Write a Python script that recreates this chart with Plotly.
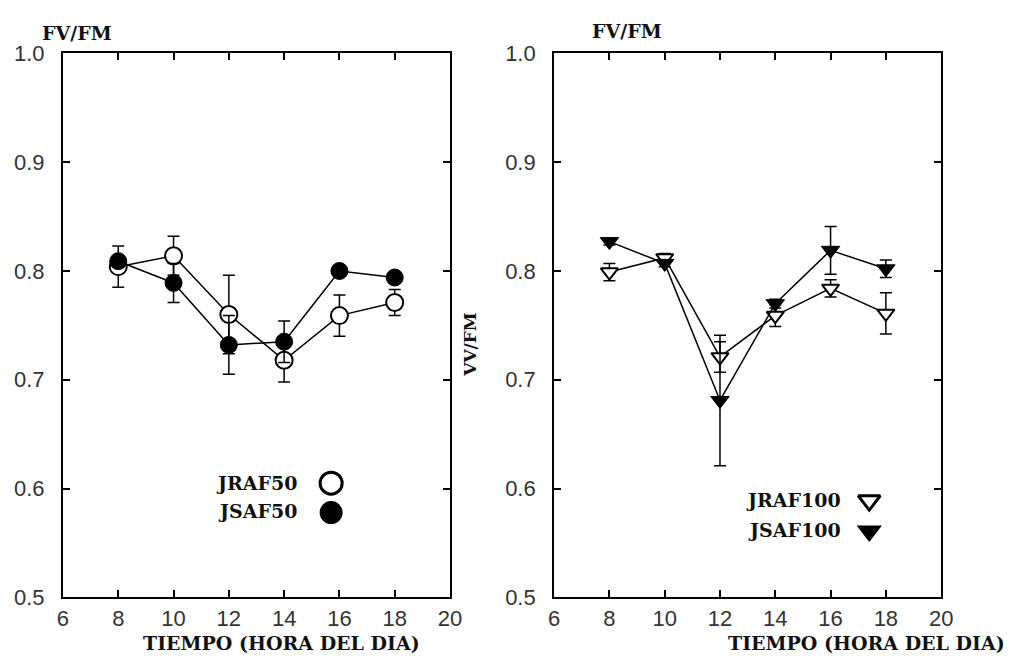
import plotly.graph_objects as go

# ---------------- data ----------------
hours = [8, 10, 12, 14, 16, 18]

jraf50 = [0.804, 0.814, 0.760, 0.718, 0.759, 0.771]
jraf50_err = [0.019, 0.018, 0.036, 0.020, 0.019, 0.012]
jsaf50 = [0.809, 0.789, 0.732, 0.735, 0.800, 0.794]
jsaf50_err = [0.005, 0.018, 0.027, 0.019, 0.005, 0.004]

jraf100 = [0.799, 0.812, 0.721, 0.759, 0.784, 0.761]
jraf100_err = [0.008, 0.004, 0.014, 0.010, 0.008, 0.019]
jsaf100 = [0.827, 0.807, 0.681, 0.770, 0.819, 0.802]
jsaf100_err = [0.003, 0.003, 0.060, 0.004, 0.022, 0.008]

x_ticks = [6, 8, 10, 12, 14, 16, 18, 20]
y_ticks = [0.5, 0.6, 0.7, 0.8, 0.9, 1.0]
y_tick_text = ["0.5", "0.6", "0.7", "0.8", "0.9", "1.0"]

legend_left = ["JRAF50", "JSAF50"]
legend_right = ["JRAF100", "JSAF100"]

# ---------------- figure ----------------
W, H = 1017, 672
SERIF = "DejaVu Serif"
SANS = "Liberation Sans"

def px(x):
    return x / W

def py(y):
    return 1 - y / H

fig = go.Figure()

line = dict(color="black", width=1.5)

def err(arr):
    return dict(type="data", array=arr, visible=True, color="black", thickness=1.5, width=6)

# left panel
fig.add_trace(go.Scatter(x=hours, y=jraf50, mode="lines+markers", line=line,
                         marker=dict(symbol="circle", size=17, color="white",
                                     line=dict(color="black", width=2)),
                         error_y=err(jraf50_err), xaxis="x", yaxis="y", showlegend=False))
fig.add_trace(go.Scatter(x=hours, y=jsaf50, mode="lines+markers", line=line,
                         marker=dict(symbol="circle", size=17, color="black",
                                     line=dict(color="black", width=1)),
                         error_y=err(jsaf50_err), xaxis="x", yaxis="y", showlegend=False))

# right panel
fig.add_trace(go.Scatter(x=hours, y=jraf100, mode="lines+markers", line=line,
                         marker=dict(symbol="triangle-down", size=15, color="white",
                                     line=dict(color="black", width=2)),
                         error_y=err(jraf100_err), xaxis="x2", yaxis="y2", showlegend=False))
fig.add_trace(go.Scatter(x=hours, y=jsaf100, mode="lines+markers", line=line,
                         marker=dict(symbol="triangle-down", size=16, color="black",
                                     line=dict(color="black", width=1)),
                         error_y=err(jsaf100_err), xaxis="x2", yaxis="y2", showlegend=False))

# custom legend glyphs
fig.add_trace(go.Scatter(x=[15.7], y=[0.605], mode="markers",
                         marker=dict(symbol="circle", size=22, color="white",
                                     line=dict(color="black", width=3)),
                         xaxis="x", yaxis="y", showlegend=False))
fig.add_trace(go.Scatter(x=[15.7], y=[0.578], mode="markers",
                         marker=dict(symbol="circle", size=23, color="black"),
                         xaxis="x", yaxis="y", showlegend=False))
fig.add_trace(go.Scatter(x=[17.4], y=[0.589], mode="markers",
                         marker=dict(symbol="triangle-down", size=19, color="white",
                                     line=dict(color="black", width=3)),
                         xaxis="x2", yaxis="y2", showlegend=False))
fig.add_trace(go.Scatter(x=[17.4], y=[0.561], mode="markers",
                         marker=dict(symbol="triangle-down", size=22, color="black"),
                         xaxis="x2", yaxis="y2", showlegend=False))

axis_common = dict(
    showline=True, linecolor="black", linewidth=2, mirror="ticks",
    ticks="inside", ticklen=7, tickwidth=2, tickcolor="black",
    showgrid=False, zeroline=False,
    tickfont=dict(family=SANS, size=22, color="#333"),
)

y_dom = [py(608), py(43)]

fig.update_layout(
    width=W, height=H,
    margin=dict(l=0, r=0, t=0, b=0),
    paper_bgcolor="white", plot_bgcolor="white",
    showlegend=False,
    xaxis=dict(domain=[px(58), px(452)], range=[6, 20], tickvals=x_ticks,
               anchor="y", **axis_common),
    yaxis=dict(domain=y_dom, range=[0.5, 1.0], tickvals=y_ticks, ticktext=y_tick_text,
               anchor="x", ticklabelstandoff=12, **axis_common),
    xaxis2=dict(domain=[px(558), px(952)], range=[6, 20], tickvals=x_ticks,
                anchor="y2", **axis_common),
    yaxis2=dict(domain=y_dom, range=[0.5, 1.0], tickvals=y_ticks, ticktext=y_tick_text,
                anchor="x2", ticklabelstandoff=12, **axis_common),
)

title_font = dict(family=SERIF, size=19, color="#111")

annotations = [
    dict(text="<b>FV/FM</b>", x=px(72), y=py(22), font=title_font),
    dict(text="<b>FV/FM</b>", x=px(632), y=py(20), font=title_font),
    dict(text="<b>VV/FM</b>", x=px(473), y=py(345), textangle=-90,
         font=dict(family=SERIF, size=17, color="#111")),
    dict(text="<b>TIEMPO (HORA DEL DIA)</b>", x=px(280), y=py(655), font=title_font),
    dict(text="<b>TIEMPO (HORA DEL DIA)</b>", x=px(876), y=py(655), font=title_font),
    dict(text="<b>" + legend_left[0] + "</b>", x=px(298), y=py(489), xanchor="right", font=title_font),
    dict(text="<b>" + legend_left[1] + "</b>", x=px(298), y=py(518), xanchor="right", font=title_font),
    dict(text="<b>" + legend_right[0] + "</b>", x=px(852), y=py(507), xanchor="right", font=title_font),
    dict(text="<b>" + legend_right[1] + "</b>", x=px(852), y=py(538), xanchor="right", font=title_font),
]
for a in annotations:
    a.setdefault("xanchor", "center")
    a.update(xref="paper", yref="paper", yanchor="middle", showarrow=False)
fig.update_layout(annotations=annotations)

fig.write_html("out.html")
